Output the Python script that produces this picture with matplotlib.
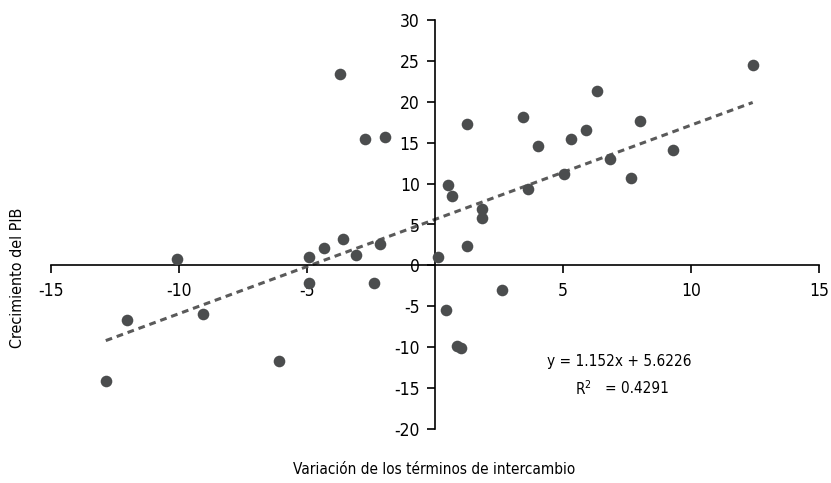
import matplotlib
matplotlib.use("Agg")
import matplotlib.pyplot as plt

plt.rcParams['font.family'] = ['DejaVu Sans']
plt.rcParams['font.stretch'] = 'condensed'
plt.rcParams['axes.unicode_minus'] = False

# terms-of-trade change vs GDP growth
x_vals = [-12.86, -12.03, -10.08, -9.07, -6.10, -4.92, -4.92, -4.34, -3.72, -3.58,
          -3.07, -2.73, -2.40, -2.14, -1.97, 0.10, 0.42, 0.49, 0.65, 0.86,
          1.03, 1.25, 1.25, 1.84, 1.84, 2.62, 3.45, 3.62, 4.04, 5.05,
          5.31, 5.90, 6.33, 6.84, 7.67, 8.00, 9.28, 12.41]
y_vals = [-14.1, -6.7, 0.8, -5.9, -11.7, 1.0, -2.2, 2.1, 23.4, 3.2,
          1.3, 15.4, -2.2, 2.6, 15.7, 1.0, -5.4, 9.8, 8.5, -9.9,
          -10.1, 17.3, 2.4, 6.9, 5.8, -3.0, 18.1, 9.3, 14.6, 11.2,
          15.4, 16.5, 21.3, 13.0, 10.7, 17.6, 14.1, 24.5]

slope, intercept = 1.152, 5.6226
r2 = 0.4291

fig = plt.figure(figsize=(8.31, 4.83), dpi=100)
ax = fig.add_axes([51 / 831, 54 / 483, 768 / 831, 409 / 483])

ax.scatter(x_vals, y_vals, s=70, color="#4b4d4e", zorder=3, linewidths=0)

xs = [min(x_vals), max(x_vals)]
ax.plot(xs, [slope * v + intercept for v in xs], color="#5a5a5a", lw=2.2,
        linestyle=(0, (2.2, 1.6)), zorder=2)

ax.set_xlim(-15, 15)
ax.set_ylim(-20, 30)
ax.spines['left'].set_position(('data', 0))
ax.spines['bottom'].set_position(('data', 0))
ax.spines['top'].set_visible(False)
ax.spines['right'].set_visible(False)
for sp in ('left', 'bottom'):
    ax.spines[sp].set_linewidth(1.2)

ax.set_xticks([-15, -10, -5, 5, 10, 15])
ax.set_yticks(range(-20, 31, 5))
ax.tick_params(axis='both', direction='out', length=6, width=1.2, labelsize=12.5)
ax.tick_params(axis='x', pad=6)
ax.tick_params(axis='y', pad=5)

ax.text(7.2, -11.7, "y = 1.152x + 5.6226", fontsize=11, ha='center', va='center')
ax.text(5.8, -15.1, "R$^{2}$", fontsize=11, ha='center', va='center')
ax.text(7.9, -15.1, "= 0.4291", fontsize=11, ha='center', va='center')

fig.text(434 / 831, 1 - 469 / 483, "Variación de los términos de intercambio",
         fontsize=11, ha='center', va='center')
fig.text(18 / 831, 1 - 278 / 483, "Crecimiento del PIB", fontsize=11.5,
         ha='center', va='center', rotation=90)

fig.savefig("out.png", dpi=100)
